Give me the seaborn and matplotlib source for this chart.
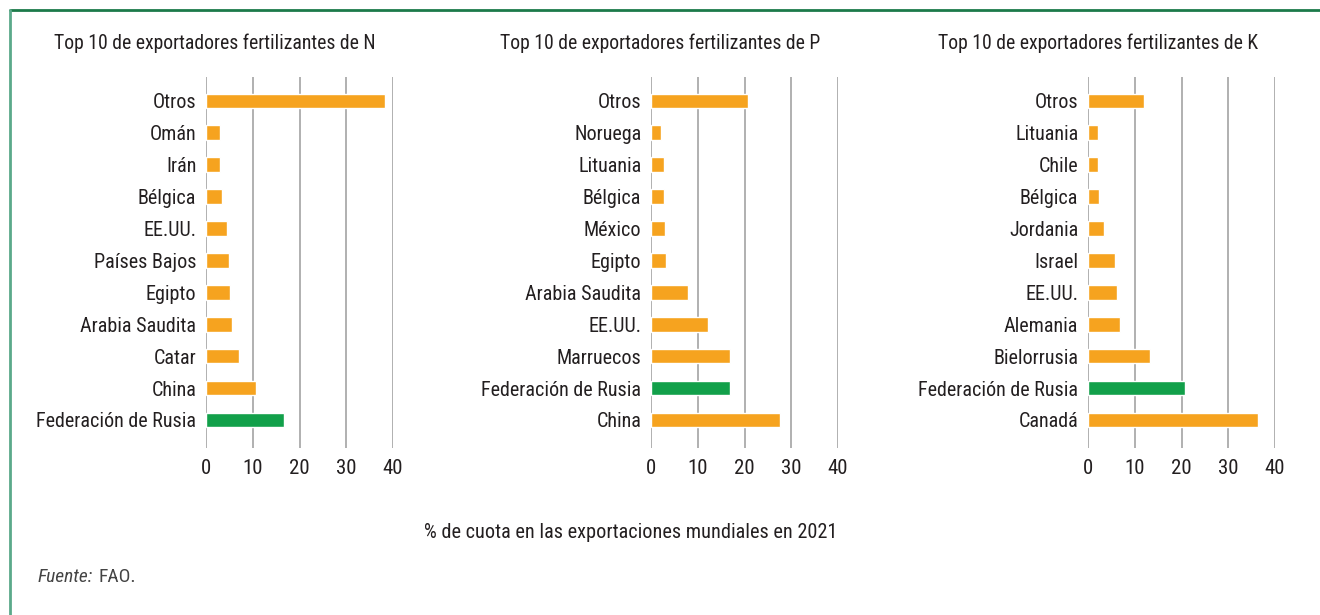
import pandas as pd
import seaborn as sns
import matplotlib.pyplot as plt
from matplotlib.lines import Line2D

# datos (% de cuota en las exportaciones mundiales, 2021)
paises_n = ['Otros', 'Omán', 'Irán', 'Bélgica', 'EE.UU.', 'Países Bajos', 'Egipto',
            'Arabia Saudita', 'Catar', 'China', 'Federación de Rusia']
valores_n = [38.2, 2.9, 3.1, 3.4, 4.4, 4.9, 5.1, 5.5, 7.0, 10.8, 16.6]

paises_p = ['Otros', 'Noruega', 'Lituania', 'Bélgica', 'México', 'Egipto',
            'Arabia Saudita', 'EE.UU.', 'Marruecos', 'Federación de Rusia', 'China']
valores_p = [20.7, 2.1, 2.8, 2.8, 3.0, 3.2, 7.9, 12.2, 16.9, 16.9, 27.6]

paises_k = ['Otros', 'Lituania', 'Chile', 'Bélgica', 'Jordania', 'Israel', 'EE.UU.',
            'Alemania', 'Bielorrusia', 'Federación de Rusia', 'Canadá']
valores_k = [12.0, 2.1, 2.1, 2.4, 3.4, 5.8, 6.2, 6.8, 13.3, 20.7, 36.4]

titulos = ['Top 10 de exportadores fertilizantes de N',
           'Top 10 de exportadores fertilizantes de P',
           'Top 10 de exportadores fertilizantes de K']
ticks_x = [0, 10, 20, 30, 40]

NARANJA = '#F6A31F'
VERDE = '#12A04A'
GRIS = '#A3A3A3'
TEXTO = '#231F20'

sns.set_style('white')
plt.rcParams['font.family'] = ['Roboto Condensed', 'DejaVu Sans']

W, H = 1320, 615
fig = plt.figure(figsize=(W / 100, H / 100), dpi=100)

paneles = [(paises_n, valores_n), (paises_p, valores_p), (paises_k, valores_k)]
lefts = [206, 651, 1088]
centros_titulo = [215, 660, 1098]

for (paises, valores), left, titulo, cx in zip(paneles, lefts, titulos, centros_titulo):
    df = pd.DataFrame({'pais': paises, 'cuota': valores})
    df['grupo'] = ['rusia' if p == 'Federación de Rusia' else 'resto' for p in paises]

    ax = fig.add_axes([left / W, (H - 448) / H, 187 / W, 371 / H])
    sns.barplot(data=df, x='cuota', y='pais', hue='grupo', dodge=False,
                palette={'rusia': VERDE, 'resto': NARANJA}, width=0.46,
                legend=False, saturation=1, ax=ax)
    ax.set_xlim(0, 40)
    ax.set_ylim(10.88, -0.75)
    ax.set_xticks(ticks_x)
    ax.grid(axis='x', color=GRIS, linewidth=1.2)
    ax.grid(axis='y', visible=False)
    ax.set_axisbelow(True)
    sns.despine(ax=ax, left=True, bottom=True)
    ax.set_xlabel('')
    ax.set_ylabel('')
    ax.tick_params(axis='y', length=0, pad=7, labelsize=14.5, labelcolor=TEXTO)
    ax.tick_params(axis='x', length=0, pad=8, labelsize=15, labelcolor=TEXTO)
    fig.text(cx / W, 1 - 43 / H, titulo, ha='center', va='center',
             fontsize=14.2, color=TEXTO)

fig.text(631 / W, 1 - 532 / H, '% de cuota en las exportaciones mundiales en 2021',
         ha='center', va='center', fontsize=14.6, color=TEXTO)
fig.text(38 / W, 1 - 577 / H, 'Fuente:', ha='left', va='center', fontsize=14,
         style='italic', color='#444444')
fig.text(98 / W, 1 - 577 / H, 'FAO.', ha='left', va='center', fontsize=14,
         color='#444444')

# marco verde
fig.add_artist(Line2D([10 / W, 1], [1 - 10 / H, 1 - 10 / H], color='#1C7A4A',
                      linewidth=2, transform=fig.transFigure))
fig.add_artist(Line2D([10 / W, 10 / W], [1 - 10 / H, 0], color='#5BA98A',
                      linewidth=2, transform=fig.transFigure))

fig.savefig('out.png', dpi=100)
